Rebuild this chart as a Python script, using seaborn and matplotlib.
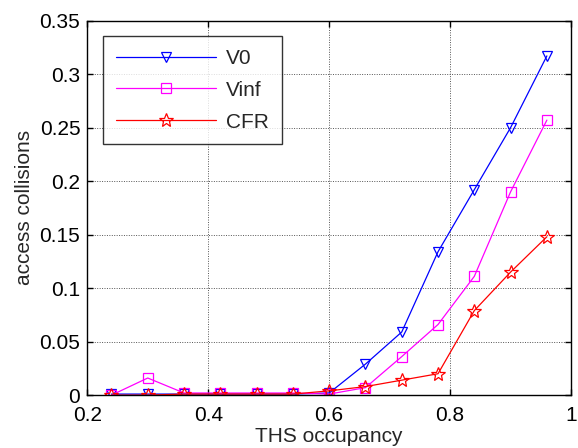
import matplotlib
matplotlib.use("Agg")
import matplotlib.pyplot as plt
import seaborn as sns
import pandas as pd

occupancy = [0.24, 0.30, 0.36, 0.42, 0.48, 0.54, 0.60, 0.66, 0.72, 0.78, 0.84, 0.90, 0.96]
v0 = [0.001, 0.001, 0.001, 0.001, 0.001, 0.001, 0.002, 0.029, 0.059, 0.134, 0.192, 0.250, 0.317]
vinf = [0.000, 0.016, 0.002, 0.002, 0.002, 0.002, 0.001, 0.007, 0.036, 0.066, 0.111, 0.190, 0.257]
cfr = [0.000, 0.000, 0.001, 0.001, 0.001, 0.001, 0.004, 0.008, 0.014, 0.020, 0.079, 0.115, 0.148]
series_names = ["V0", "Vinf", "CFR"]

sns.set_style("white")
plt.rcParams["font.family"] = ["Liberation Sans", "DejaVu Sans"]

df = pd.DataFrame({
    "THS occupancy": occupancy * 3,
    "access collisions": v0 + vinf + cfr,
    "series": [s for s in series_names for _ in occupancy],
})

fig = plt.figure(figsize=(5.78, 4.48), dpi=100)
ax = fig.add_axes([0.151, 0.118, 0.837, 0.836])

styles = {
    "V0": dict(color="#0000ff", marker="v", ms=7),
    "Vinf": dict(color="#ff00ff", marker="s", ms=7),
    "CFR": dict(color="#ff0000", marker="*", ms=10),
}
for name in series_names:
    st = styles[name]
    sns.lineplot(
        data=df[df["series"] == name], x="THS occupancy", y="access collisions",
        ax=ax, color=st["color"], marker=st["marker"], markersize=st["ms"],
        markerfacecolor="none", markeredgecolor=st["color"], markeredgewidth=0.9,
        linewidth=0.9, label=name,
    )

ax.set_xlim(0.2, 1.0)
ax.set_ylim(0, 0.35)
ax.set_xticks([0.2, 0.4, 0.6, 0.8, 1.0])
ax.set_xticklabels(["0.2", "0.4", "0.6", "0.8", "1"])
ax.set_yticks([0, 0.05, 0.1, 0.15, 0.2, 0.25, 0.3, 0.35])
ax.set_yticklabels(["0", "0.05", "0.1", "0.15", "0.2", "0.25", "0.3", "0.35"])
ax.grid(True, color="#555555", linestyle=(0, (1, 1.5)), linewidth=0.7)
ax.tick_params(direction="in", length=4, width=1, labelsize=15, colors="black",
               top=True, right=True, bottom=True, left=True)
ax.tick_params(axis="y", pad=5)
ax.tick_params(axis="x", pad=8)
for sp in ax.spines.values():
    sp.set_visible(True)
    sp.set_color("black")
    sp.set_linewidth(1.0)

ax.set_xlabel("THS occupancy", fontsize=15, labelpad=1)
ax.set_ylabel("access collisions", fontsize=15, labelpad=4)

leg = ax.legend(loc="upper left", bbox_to_anchor=(0.033, 0.958), numpoints=1,
                handlelength=4.8, fontsize=15, frameon=True, fancybox=False,
                borderpad=0.6, labelspacing=0.62, handletextpad=0.5, borderaxespad=0)
leg.get_frame().set_edgecolor("black")
leg.get_frame().set_linewidth(1.0)

fig.savefig("out.png", dpi=100)
